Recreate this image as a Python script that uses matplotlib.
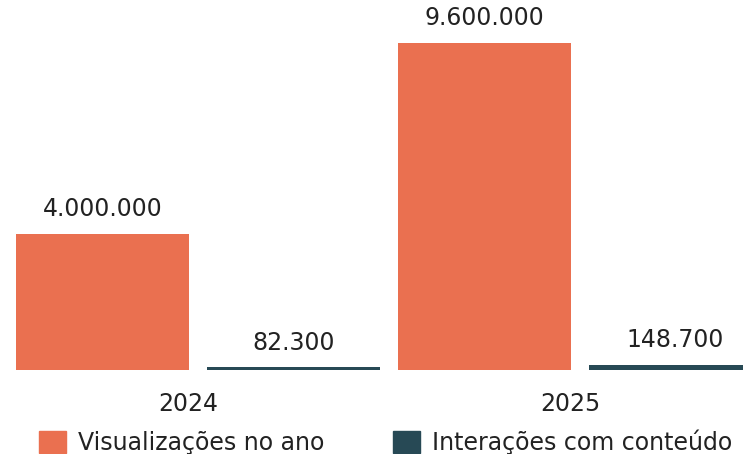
import matplotlib.pyplot as plt
from matplotlib.patches import Patch
import numpy as np

# Data
years = ['2024', '2025']
views_year = [4000000, 9600000]
interactions = [82300, 148700]
series_names = ['Visualizações no ano', 'Interações com conteúdo']

orange = '#EA7050'
dark = '#274955'
text_color = '#222222'

plt.rcParams['font.family'] = ['DejaVu Sans']
fs = 17


def fmt(v):
    return f'{v:,}'.replace(',', '.')


W, H = 743, 454
fig = plt.figure(figsize=(W / 100, H / 100), dpi=100)
# axes extends past right edge, chart is cropped like the reference
ax = fig.add_axes([7 / W, 84 / H, 764 / W, 370 / H])

x = np.arange(len(years))
width = 0.453
off = 0.25
b1 = ax.bar(x - off, views_year, width, color=orange)
b2 = ax.bar(x + off, interactions, width, color=dark)

for bars, vals in ((b1, views_year), (b2, interactions)):
    for bar, v in zip(bars, vals):
        ax.annotate(fmt(v), (bar.get_x() + bar.get_width() / 2, bar.get_height()),
                    xytext=(0, 9), textcoords='offset points',
                    ha='center', va='bottom', fontsize=fs, color=text_color)

ax.set_xlim(-0.5, 1.5)
ax.set_ylim(0, 10.85e6)
ax.set_xticks(x - 0.025)
ax.set_xticklabels(years, fontsize=fs, color=text_color)
ax.tick_params(axis='x', length=0, pad=16)
ax.set_yticks([])
for s in ax.spines.values():
    s.set_visible(False)

handles = [Patch(color=orange), Patch(color=dark)]
fig.legend(handles, series_names, ncol=2, loc='center left',
           bbox_to_anchor=(39 / W, 1 - 442 / H), frameon=False,
           fontsize=fs, labelcolor=text_color, handlelength=1.15,
           handleheight=1.05, handletextpad=0.5, columnspacing=2.9,
           borderaxespad=0, borderpad=0)

fig.savefig('out.png', dpi=100)
